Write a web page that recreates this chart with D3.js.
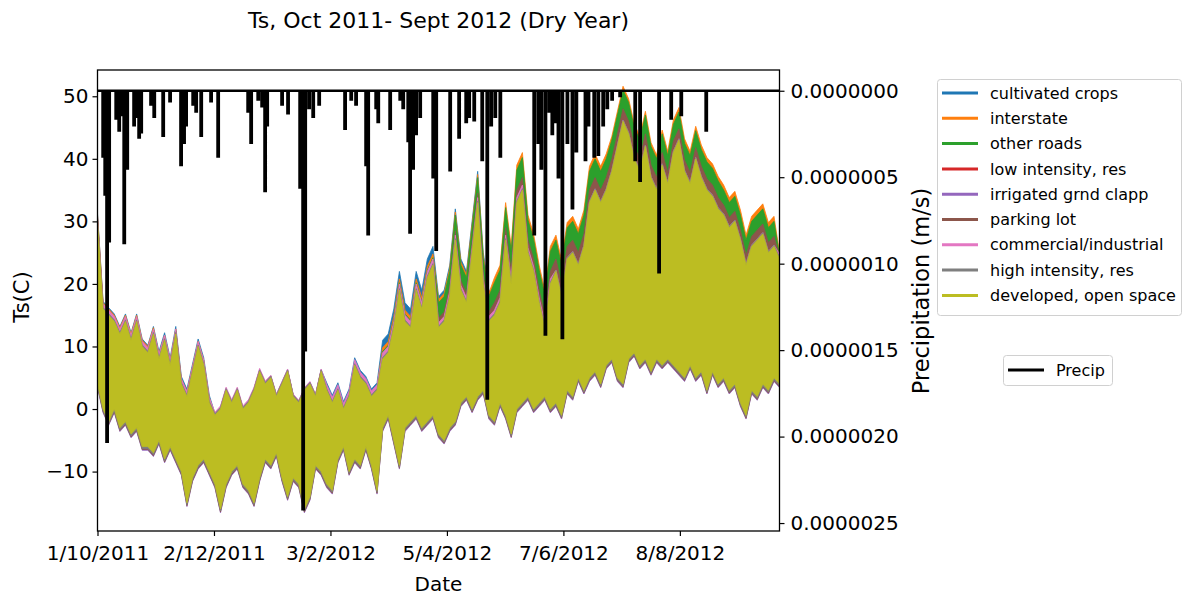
<!DOCTYPE html>
<html>
<head>
<meta charset="utf-8">
<title>Ts, Oct 2011- Sept 2012 (Dry Year)</title>
<script src="https://d3js.org/d3.v7.min.js"></script>
<style>
  body { margin: 0; background: #fff; }
  text { font-family: "DejaVu Sans", sans-serif; fill: #000; }
</style>
</head>
<body>
<script>
// land cover series, in plotting order
const landCovers = ["cultivated crops", "interstate", "other roads", "low intensity, res",
  "irrigated grnd clapp", "parking lot", "commercial/industrial", "high intensity, res",
  "developed, open space"];
const coverColors = ["#1f77b4", "#ff7f0e", "#2ca02c", "#d62728", "#9467bd",
  "#8c564b", "#e377c2", "#7f7f7f", "#bcbd22"];

// developed, open space: max / min Ts (C) every 3 days from 1 Oct 2011
const tDay = d3.range(0, 367, 3);
const tMax = [30, 16, 15, 14, 12, 14, 11, 14, 10, 9,
  12, 8, 11, 7, 12, 4, 2, 6, 10, 7,
  1, -1, 0, 3, 1, 3, 0, 1, 3, 6,
  4, 5, 2, 4, 6, 2, 1, 3, 4, 2,
  6, 3, 1, 3, 0, 2, 7, 5, 4, 2,
  3, 8, 9, 13, 19, 14, 13, 19, 16, 21,
  23, 13, 14, 18, 27, 19, 17, 25, 33, 20,
  14, 15, 17, 27, 20, 33, 35, 25, 22, 17,
  13, 20, 22, 18, 24, 25, 23, 26, 33, 35,
  33, 35, 38, 42, 46, 44, 40, 38, 42, 37,
  35, 39, 36, 41, 43, 38, 36, 40, 37, 35,
  34, 32, 31, 29, 30, 27, 23, 26, 27, 28,
  25, 26, 24];
const tMin = [4, 0, -2, 0, -3, -2, -4, -3, -6, -6,
  -7, -5, -8, -6, -8, -10, -15, -11, -9, -8,
  -10, -12, -16, -12, -10, -9, -12, -13, -15, -11,
  -8, -9, -7, -11, -14, -11, -12, -16, -14, -9,
  -10, -12, -13, -8, -6, -10, -8, -9, -6, -9,
  -13, -3, -1, -5, -9, -3, -2, -1, -3, -2,
  -1, -4, -5, -3, -2, 1, 2, 0, 2, 3,
  -1, -2, 1, -1, -4, 0, 1, 2, 0, 1,
  2, 0, 1, -1, 3, 2, 5, 3, 5, 6,
  4, 7, 8, 5, 4, 8, 9, 7, 8, 6,
  8, 7, 8, 7, 6, 5, 7, 5, 6, 3,
  6, 4, 5, 3, 4, 1, -1, 3, 2, 4,
  3, 5, 4];

// monthly departure of each cover from developed, open space (Oct .. Sep), C
const hiOffset = [
  [1.2, 1.2, 0.3, 0.3, 1.2, 3.0, 5.0, 3.0, -2, -3, -3, -3],
  [1.0, 0.8, 0.2, 0.2, 0.5, 1.8, 4.5, 6.0, 5.8, 5.6, 5.2, 4.8],
  [0.5, 0.5, 0.1, 0.1, 0.3, 1.2, 4.0, 5.2, 5.0, 5.0, 4.5, 4.0],
  [0.1, 0.1, 0.1, 0.1, 0.1, 0.1, 0.1, 0.1, 0.1, 0.1, 0.1, 0.1],
  [0, 0, 0, 0, 0, 0, 0, 0, 0, 0, 0, 0],
  [0.4, 0.4, 0.2, 0.2, 0.3, 0.8, 1.5, 2.0, 2.0, 2.0, 1.8, 1.6],
  [0.8, 0.8, 0.5, 0.4, 0.9, 1.0, 0.8, 0.8, 0.2, 0.2, 0.2, 0.2],
  [0.25, 0.25, 0.25, 0.25, 0.25, 0.25, 0.25, 0.25, 0.2, 0.2, 0.2, 0.2],
  [0, 0, 0, 0, 0, 0, 0, 0, 0, 0, 0, 0]
];
const loOffset = [0.5, 1, 1, 0.5, -0.6, -0.45, 0.3, -0.3, 0];

// precipitation events: day after 1 Oct 2011 and rate (1e-6 m/s)
const precipDay = [2.7, 3.8, 4.8, 5.9, 9.7, 11.3, 12.3, 14.0, 15.6, 19.3,
  20.9, 22.0, 23.1, 28.4, 30.1, 34.9, 38.6, 44.5, 46.1, 47.2,
  51.0, 52.6, 55.3, 60.6, 64.4, 80.5, 82.1, 85.9, 88.0, 89.6,
  90.7, 98.7, 101.9, 108.4, 110.0, 111.1, 113.2, 115.4, 118.6, 132.5,
  135.8, 138.4, 143.8, 144.9, 149.2, 150.3, 156.7, 162.1, 163.7, 166.4,
  167.4, 169.0, 170.6, 172.8, 179.8, 181.4, 188.9, 193.7, 197.5, 199.1,
  201.8, 206.1, 208.8, 210.9, 213.1, 215.8, 234.0, 236.2, 237.8, 240.0,
  242.1, 243.7, 245.3, 247.0, 249.1, 251.8, 254.5, 256.6, 261.5, 263.1,
  266.2, 268.4, 271.0, 273.2, 275.8, 280.1, 288.2, 290.8, 301.0, 307.5,
  312.9, 326.3];
const precipRate = [0.38, 0.60, 2.03, 0.87, 0.16, 0.23, 0.14, 0.88, 0.45, 0.20,
  0.15, 0.27, 0.24, 0.08, 0.15, 0.26, 0.06, 0.43, 0.30, 0.20,
  0.08, 0.12, 0.26, 0.06, 0.38, 0.12, 0.30, 0.05, 0.09, 0.58,
  0.20, 0.08, 0.13, 0.56, 2.42, 1.50, 0.10, 0.15, 0.08, 0.22,
  0.05, 0.08, 0.43, 0.83, 0.10, 0.18, 0.22, 0.05, 0.10, 0.29,
  0.82, 0.45, 0.25, 0.15, 0.50, 0.92, 0.46, 0.27, 0.18, 0.15,
  0.17, 0.40, 1.78, 0.20, 0.15, 0.38, 0.83, 0.30, 0.45, 1.41,
  0.12, 0.25, 0.18, 0.50, 1.43, 0.30, 0.68, 0.35, 0.40, 0.20,
  0.38, 0.37, 0.20, 0.10, 0.05, 0.03, 0.40, 0.52, 1.05, 0.16,
  0.14, 0.23];

const xTickDays = [0, 62.5, 125, 187.5, 250, 312.5];
const tTicks = [-10, 0, 10, 20, 30, 40, 50];
const pTicks = [0, 0.5e-6, 1e-6, 1.5e-6, 2e-6, 2.5e-6];

// ---- layout ----
const W = 1184, H = 596;
const L = 97.5, R = 779.5, T = 70, B = 531;
const t0 = Date.UTC(2011, 9, 1);
const day = d => new Date(t0 + d * 864e5);

const svg = d3.select("body").append("svg").attr("width", W).attr("height", H);

const x = d3.scaleUtc().domain([day(0), new Date(t0 + 8783 * 3600e3)]).range([L, R]);
const y = d3.scaleLinear().domain([-19.5, 54.2]).range([B, T]);
const yp = d3.scaleLinear().domain([-0.12e-6, 2.546e-6]).range([T, B]);

svg.append("clipPath").attr("id", "plot")
  .append("rect").attr("x", L).attr("y", T).attr("width", R - L).attr("height", B - T);

const g = svg.append("g").attr("clip-path", "url(#plot)");

const monthIdx = d => (day(d).getUTCMonth() + 3) % 12;

landCovers.forEach((name, s) => {
  const area = d3.area()
    .x((d, i) => x(day(tDay[i])))
    .y0((d, i) => y(tMin[i] + loOffset[s]))
    .y1((d, i) => y(tMax[i] + hiOffset[s][monthIdx(tDay[i])]));
  g.append("path").datum(tDay)
    .attr("d", area)
    .attr("fill", coverColors[s])
    .attr("stroke", coverColors[s])
    .attr("stroke-width", 0.8);
});

// precipitation line (step)
const precipPts = [[0, 0]];
precipDay.forEach((d, i) => {
  precipPts.push([d, precipRate[i] * 1e-6]);
  const next = precipDay[i + 1];
  if (next === undefined || next - d > 0.7) precipPts.push([d + 0.7, 0]);
});
precipPts.push([366, 0]);

g.append("path").datum(precipPts)
  .attr("d", d3.line().curve(d3.curveStepAfter).x(d => x(day(d[0]))).y(d => yp(d[1])))
  .attr("fill", "none").attr("stroke", "#000").attr("stroke-width", 2.5)
  .attr("stroke-linejoin", "miter");

// axes
const styleAxis = sel => {
  sel.select(".domain").remove();
  sel.selectAll(".tick line").attr("stroke", "#000").attr("stroke-width", 1.2);
  sel.selectAll(".tick text").attr("font-size", 20).attr("font-family", "DejaVu Sans");
};

svg.append("g").attr("transform", `translate(0,${B})`)
  .call(d3.axisBottom(x).tickValues(xTickDays.map(day)).tickFormat(d3.utcFormat("%-d/%-m/%Y"))
    .tickSize(5).tickPadding(10))
  .call(styleAxis);

svg.append("g").attr("transform", `translate(${L},0)`)
  .call(d3.axisLeft(y).tickValues(tTicks).tickSize(5).tickPadding(4))
  .call(styleAxis);

svg.append("g").attr("transform", `translate(${R},0)`)
  .call(d3.axisRight(yp).tickValues(pTicks).tickFormat(d3.format(".7f")).tickSize(5).tickPadding(6))
  .call(styleAxis);

svg.append("rect").attr("x", L).attr("y", T).attr("width", R - L).attr("height", B - T)
  .attr("fill", "none").attr("stroke", "#000").attr("stroke-width", 1.3);

// titles
svg.append("text").attr("x", (L + R) / 2).attr("y", 28).attr("text-anchor", "middle")
  .attr("font-size", 22).text("Ts, Oct 2011- Sept 2012 (Dry Year)");
svg.append("text").attr("x", (L + R) / 2).attr("y", 591).attr("text-anchor", "middle")
  .attr("font-size", 20).text("Date");
svg.append("text").attr("transform", "translate(29,297) rotate(-90)")
  .attr("text-anchor", "middle").attr("font-size", 21).text("Ts(C)");
svg.append("text").attr("transform", "translate(929,291) rotate(-90)")
  .attr("text-anchor", "middle").attr("font-size", 22.5).text("Precipitation (m/s)");

// legend of land covers
const lg = svg.append("g");
lg.append("rect").attr("x", 937.5).attr("y", 79.5).attr("width", 244).attr("height", 236)
  .attr("rx", 3).attr("fill", "#fff").attr("stroke", "#d0d0d0");
landCovers.forEach((name, s) => {
  const yy = 93 + s * 25.3;
  lg.append("line").attr("x1", 942).attr("x2", 978).attr("y1", yy).attr("y2", yy)
    .attr("stroke", coverColors[s]).attr("stroke-width", 3);
  lg.append("text").attr("x", 990).attr("y", yy).attr("dy", "0.35em")
    .attr("font-size", 16).text(name);
});

// legend of precipitation
const lp = svg.append("g");
lp.append("rect").attr("x", 1003.5).attr("y", 355.5).attr("width", 109).attr("height", 30)
  .attr("rx", 3).attr("fill", "#fff").attr("stroke", "#d0d0d0");
lp.append("line").attr("x1", 1008).attr("x2", 1044).attr("y1", 370).attr("y2", 370)
  .attr("stroke", "#000").attr("stroke-width", 3);
lp.append("text").attr("x", 1056).attr("y", 370).attr("dy", "0.35em")
  .attr("font-size", 16).text("Precip");
</script>
</body>
</html>
